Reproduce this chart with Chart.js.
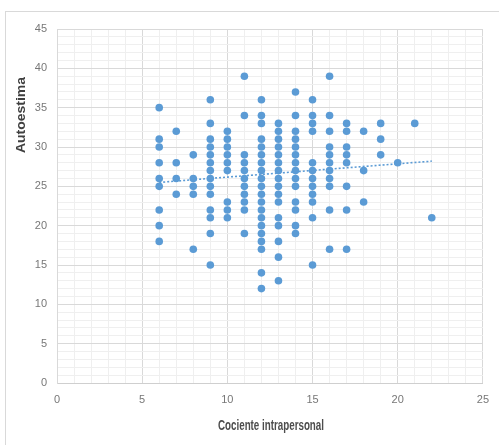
<!DOCTYPE html>
<html>
<head>
<meta charset="utf-8">
<script src="https://cdn.jsdelivr.net/npm/chart.js@4.4.0/dist/chart.umd.min.js"></script>
<style>
    body { margin: 0; background: #fff; }
    #frame {
        position: absolute; left: 5px; top: 11px;
        width: 493px; height: 433px;
        border-left: 1px solid #d9d9d9; border-top: 1px solid #d9d9d9;
    }
</style>
</head>
<body>
<div id="frame"><canvas id="scatterChart"></canvas></div>
<script>
// cociente intrapersonal values (x) and the autoestima scores found at each one (y)
let cocienteValues = [6, 7, 8, 9, 10, 11, 12, 13, 14, 15, 16, 17, 18, 19, 20, 21, 22];
let autoestimaByCociente = [
    [35, 31, 30, 28, 26, 25, 22, 20, 18],
    [32, 28, 26, 24],
    [29, 26, 25, 24, 17],
    [36, 33, 31, 30, 29, 28, 27, 26, 25, 24, 22, 21, 19, 15],
    [32, 31, 30, 29, 28, 27, 23, 22, 21],
    [39, 34, 29, 28, 27, 26, 25, 24, 23, 22, 19],
    [36, 34, 33, 31, 30, 29, 28, 27, 26, 25, 24, 23, 22, 21, 20, 19, 18, 17, 14, 12],
    [33, 32, 31, 30, 29, 28, 27, 26, 25, 24, 23, 21, 20, 18, 16, 13],
    [37, 34, 32, 31, 30, 29, 28, 27, 26, 25, 23, 22, 20, 19],
    [36, 34, 33, 32, 28, 27, 26, 25, 24, 23, 21, 15],
    [39, 34, 32, 30, 29, 28, 27, 26, 25, 22, 17],
    [33, 32, 30, 29, 28, 25, 22, 17],
    [32, 27, 23],
    [33, 31, 29],
    [28],
    [33],
    [21]
];

// linear trend line
let trendX = [6, 22];
let trendY = [25.5, 28.2];

let xTitle = 'Cociente intrapersonal';
let yTitle = 'Autoestima';

let dotColor = '#5B9BD5';
let tickFont = { family: '"Liberation Sans", sans-serif', size: 11 };

let points = [];
cocienteValues.forEach((x, i) => {
    autoestimaByCociente[i].forEach((y) => points.push({ x: x, y: y }));
});

function gridColor(ctx) {
    return ctx.tick && ctx.tick.value % 5 === 0 ? '#d9d9d9' : '#efefef';
}

function fiveOnly(value) {
    return value % 5 === 0 ? value : '';
}

// draws a title squeezed to a given width (the original uses a narrow font)
function drawTitle(ctx, text, x, y, angle, size, width, color) {
    ctx.save();
    ctx.font = 'bold ' + size + 'px "Liberation Sans", sans-serif';
    let w = ctx.measureText(text).width;
    ctx.translate(x, y);
    ctx.rotate(angle);
    ctx.scale(width / w, 1);
    ctx.fillStyle = color;
    ctx.textAlign = 'center';
    ctx.textBaseline = 'alphabetic';
    ctx.fillText(text, 0, 0);
    ctx.restore();
}

let titlesPlugin = {
    id: 'titles',
    afterDraw(chart) {
        drawTitle(chart.ctx, xTitle, 265, 418, 0, 14, 106, '#4d4d4d');
        drawTitle(chart.ctx, yTitle, 19, 103, -Math.PI / 2, 13, 76, '#404040');
    }
};

let chart = new Chart(document.getElementById('scatterChart'), {
    type: 'scatter',
    data: {
        datasets: [
            {
                data: points,
                backgroundColor: dotColor,
                borderColor: dotColor,
                borderWidth: 0,
                pointRadius: 3.8
            },
            {
                type: 'line',
                data: trendX.map((x, i) => ({ x: x, y: trendY[i] })),
                borderColor: dotColor,
                borderWidth: 1.6,
                borderDash: [2, 2],
                pointRadius: 0,
                fill: false
            }
        ]
    },
    options: {
        responsive: true,
        maintainAspectRatio: false,
        animation: false,
        layout: { padding: { left: 0, top: 17, right: 13, bottom: 0 } },
        plugins: { legend: { display: false }, tooltip: { enabled: false } },
        scales: {
            x: {
                type: 'linear',
                min: 0, max: 25,
                afterFit: (scale) => { scale.height = 62; },
                ticks: { stepSize: 1, autoSkip: false, maxRotation: 0, padding: 10,
                         color: '#777777', font: tickFont, callback: fiveOnly },
                grid: { color: gridColor, drawTicks: false },
                border: { color: '#cfcfcf' }
            },
            y: {
                min: 0, max: 45,
                afterFit: (scale) => { scale.width = 51; },
                ticks: { stepSize: 1, autoSkip: false, padding: 10,
                         color: '#777777', font: tickFont, callback: fiveOnly },
                grid: { color: gridColor, drawTicks: false },
                border: { color: '#d9d9d9' }
            }
        }
    },
    plugins: [titlesPlugin]
});
</script>
</body>
</html>
